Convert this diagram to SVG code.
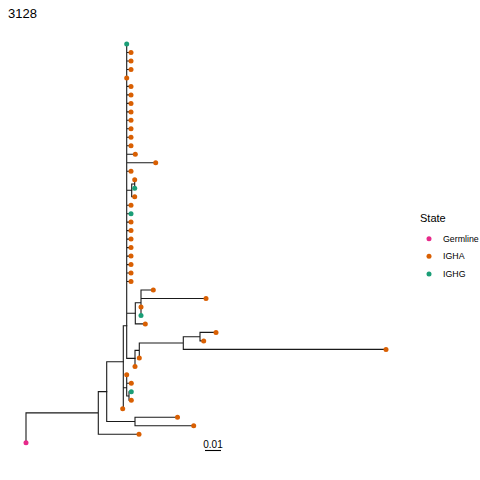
<svg xmlns="http://www.w3.org/2000/svg" width="480" height="480" viewBox="0 0 480 480">
<style>
.e{fill:none;stroke:#1a1a1a;stroke-width:1.1;stroke-linecap:square}
.g{fill:#E7298A}.a{fill:#D95F02}.h{fill:#1B9E77}
text{font-family:"Liberation Sans",Arial,sans-serif;fill:#000}
</style>
<rect width="480" height="480" fill="#fff"/>
<text x="8" y="18" font-size="13">3128</text>
<g id="connectors" class="e">
<path d="M126.7,44V358.4M126.7,52.5H131M126.7,61H131M126.7,69.5H131M126.7,86.4H131M126.7,94.9H131M126.7,103.4H131M126.7,111.9H131M126.7,120.3H131M126.7,128.8H131M126.7,137.3H131M126.7,145.8H131M126.7,154.3H135.3M126.7,162.8H155.7M126.7,171.2H131M126.7,190.3H131.7M126.7,205.2H131M126.7,213.7H131M126.7,222.1H131M126.7,230.6H131M126.7,239.1H131M126.7,247.6H131M126.7,256.1H131M126.7,264.6H131M126.7,273H131M126.7,281.5H131M126.7,313.3H135.3M126.7,358.4H135"/>
<path d="M131.7,184V196.7M131.7,184H134.7M131.7,196.7H134.7M134.7,179.7V188.2"/>
<path d="M135.3,302.7V323.9M135.3,302.7H141M135.3,323.9H145.3M141,290V315.5M141,290H153.3M141,298.5H206"/>
<path d="M135,350.4V366.4M135,350.4H139.3M139.3,343V357.9M139.3,343H183.3M183.3,336.7V349.4M183.3,336.7H200M183.3,349.4H386M200,332.4V340.9M200,332.4H216M200,340.9H203.7"/>
<path d="M123.3,325.7H126.7M123.3,325.7V408.8M123.3,387.7H126.7M126.7,374.8V396M126.7,383.3H131.3M126.7,396H129M129,391.8V400.3M129,391.8H131.3M129,400.3H131.3"/>
<path d="M106.7,361.7H123.3M106.7,361.7V421.5M106.7,421.5H135M135,417.3V425.7M135,417.3H177.5M135,425.7H193.7"/>
<path d="M98.3,391.6H106.7M98.3,391.6V434.2M98.3,434.2H139M26,412.9H98.3M26,412.9V442.7"/>
</g>
<g id="tips">
<circle class="h" cx="126.7" cy="44" r="2.5"/>
<circle class="a" cx="131" cy="52.5" r="2.5"/>
<circle class="a" cx="131" cy="61" r="2.5"/>
<circle class="a" cx="131" cy="69.5" r="2.5"/>
<circle class="a" cx="126.7" cy="77.9" r="2.5"/>
<circle class="a" cx="131" cy="86.4" r="2.5"/>
<circle class="a" cx="131" cy="94.9" r="2.5"/>
<circle class="a" cx="131" cy="103.4" r="2.5"/>
<circle class="a" cx="131" cy="111.9" r="2.5"/>
<circle class="a" cx="131" cy="120.3" r="2.5"/>
<circle class="a" cx="131" cy="128.8" r="2.5"/>
<circle class="a" cx="131" cy="137.3" r="2.5"/>
<circle class="a" cx="131" cy="145.8" r="2.5"/>
<circle class="a" cx="135.3" cy="154.3" r="2.5"/>
<circle class="a" cx="155.7" cy="162.8" r="2.5"/>
<circle class="a" cx="131" cy="171.2" r="2.5"/>
<circle class="a" cx="134.7" cy="179.7" r="2.5"/>
<circle class="h" cx="134.7" cy="188.2" r="2.5"/>
<circle class="a" cx="134.7" cy="196.7" r="2.5"/>
<circle class="a" cx="131" cy="205.2" r="2.5"/>
<circle class="h" cx="131" cy="213.7" r="2.5"/>
<circle class="a" cx="131" cy="222.1" r="2.5"/>
<circle class="a" cx="131" cy="230.6" r="2.5"/>
<circle class="a" cx="131" cy="239.1" r="2.5"/>
<circle class="a" cx="131" cy="247.6" r="2.5"/>
<circle class="a" cx="131" cy="256.1" r="2.5"/>
<circle class="a" cx="131" cy="264.6" r="2.5"/>
<circle class="a" cx="131" cy="273" r="2.5"/>
<circle class="a" cx="131" cy="281.5" r="2.5"/>
<circle class="a" cx="153.3" cy="290" r="2.5"/>
<circle class="a" cx="206" cy="298.5" r="2.5"/>
<circle class="a" cx="141" cy="307" r="2.5"/>
<circle class="h" cx="141" cy="315.5" r="2.5"/>
<circle class="a" cx="145.3" cy="323.9" r="2.5"/>
<circle class="a" cx="216" cy="332.4" r="2.5"/>
<circle class="a" cx="203.7" cy="340.9" r="2.5"/>
<circle class="a" cx="386" cy="349.4" r="2.5"/>
<circle class="a" cx="139.3" cy="357.9" r="2.5"/>
<circle class="a" cx="135" cy="366.4" r="2.5"/>
<circle class="a" cx="126.7" cy="374.8" r="2.5"/>
<circle class="a" cx="131.3" cy="383.3" r="2.5"/>
<circle class="h" cx="131.3" cy="391.8" r="2.5"/>
<circle class="a" cx="131.3" cy="400.3" r="2.5"/>
<circle class="a" cx="122.7" cy="408.8" r="2.5"/>
<circle class="a" cx="177.5" cy="417.3" r="2.5"/>
<circle class="a" cx="193.7" cy="425.7" r="2.5"/>
<circle class="a" cx="139" cy="434.2" r="2.5"/>
<circle class="g" cx="26" cy="442.7" r="2.5"/>
</g>
<g id="scale">
<line x1="205" y1="450.5" x2="221" y2="450.5" stroke="#000" stroke-width="1.1"/>
<text x="213" y="448" font-size="10" text-anchor="middle">0.01</text>
</g>
<g id="legend">
<text x="420" y="222" font-size="11">State</text>
<circle class="g" cx="429" cy="238.7" r="2.5"/>
<text x="443" y="241.8" font-size="8.8">Germline</text>
<circle class="a" cx="429" cy="256.3" r="2.5"/>
<text x="443" y="259.4" font-size="8.8">IGHA</text>
<circle class="h" cx="429" cy="273.9" r="2.5"/>
<text x="443" y="277" font-size="8.8">IGHG</text>
</g>
</svg>
